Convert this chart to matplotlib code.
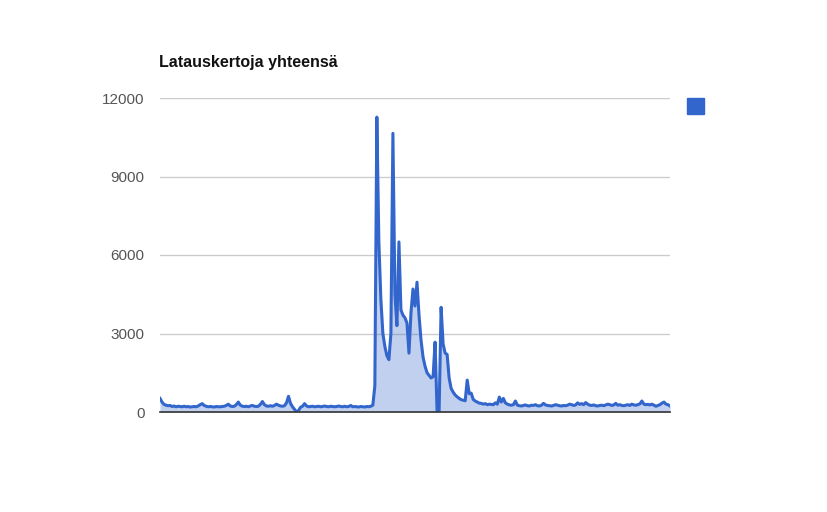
import matplotlib
matplotlib.use('Agg')
import matplotlib.pyplot as plt
from matplotlib.patches import Rectangle

title = 'Latauskertoja yhteensä'
y_ticks = [0, 3000, 6000, 9000, 12000]

# daily download counts
downloads = [
    520, 380, 290, 260, 240, 250, 210, 230, 200, 220,
    210, 200, 220, 200, 210, 190, 200, 210, 200, 230,
    280, 320, 250, 220, 200, 210, 200, 190, 210, 200,
    200, 210, 220, 250, 300, 230, 210, 220, 280, 380,
    260, 220, 210, 220, 200, 230, 250, 220, 210, 220,
    290, 400, 280, 230, 220, 240, 220, 250, 300, 260,
    230, 220, 240, 350, 600, 330, 200, 100, 0, 60,
    180, 220, 320, 230, 200, 210, 220, 200, 210, 220,
    200, 210, 230, 210, 200, 220, 210, 200, 210, 230,
    210, 200, 220, 200, 210, 250, 200, 210, 200, 190,
    210, 200, 190, 210, 200, 220, 260, 1000, 11270, 6500,
    4300, 3000, 2500, 2150, 2000, 3000, 10650, 4500, 3300, 6500,
    3900, 3700, 3600, 3400, 2250, 3800, 4700, 4050, 4960, 3700,
    2750, 2100, 1750, 1500, 1400, 1300, 1350, 2670, 0, 0,
    4000, 2600, 2250, 2200, 1300, 900, 760, 650, 580, 520,
    470, 450, 430, 1220, 700, 720, 480, 420, 380, 340,
    330, 300, 320, 280, 300, 290, 280, 350, 300, 570,
    380, 520, 350, 300, 270, 260, 280, 420, 260, 240,
    230, 250, 270, 240, 230, 260, 250, 280, 240, 230,
    260, 330, 270, 250, 240, 230, 250, 280, 260, 240,
    230, 250, 240, 260, 300, 280, 250, 270, 350, 290,
    320, 280, 360, 300, 260, 250, 270, 240, 230, 250,
    260, 240, 270, 300, 280, 250, 270, 330, 260, 280,
    250, 240, 260, 280, 250, 300, 270, 260, 280, 310,
    420, 300, 280, 290, 270, 300, 260, 220, 250, 280,
    340, 380, 300, 280, 230,
]
days = list(range(len(downloads)))

blue = '#3366cc'
plt.rcParams['font.family'] = ['Liberation Sans', 'DejaVu Sans']

fig = plt.figure(figsize=(8.28, 5.12), dpi=100)
ax = fig.add_axes([160 / 828, 100 / 512, 510 / 828, 314 / 512])

ax.fill_between(days, downloads, 0, color=blue, alpha=0.3, linewidth=0)
ax.plot(days, downloads, color=blue, linewidth=2.2, solid_joinstyle='round')

ax.set_xlim(0, len(downloads) - 1)
ax.set_ylim(0, 12000)
ax.set_yticks(y_ticks)
ax.set_yticklabels([str(t) for t in y_ticks])
ax.set_xticks([])
ax.tick_params(axis='y', length=0, pad=11, labelsize=11, labelcolor='#555555')
ax.grid(axis='y', color='#cccccc', linewidth=1)
ax.set_axisbelow(True)
for side in ['top', 'right', 'left']:
    ax.spines[side].set_visible(False)
ax.spines['bottom'].set_color('#333333')
ax.spines['bottom'].set_linewidth(1.2)
ax.spines['bottom'].set_zorder(5)

fig.text(159 / 828, 1 - 63 / 512, title, fontsize=11.5, fontweight='bold',
         color='#111111', ha='left', va='center')

# legend marker without a label
fig.add_artist(Rectangle((687 / 828, 1 - 114 / 512), 17 / 828, 16 / 512,
                         transform=fig.transFigure, color=blue))

fig.savefig('out.png', dpi=100)
